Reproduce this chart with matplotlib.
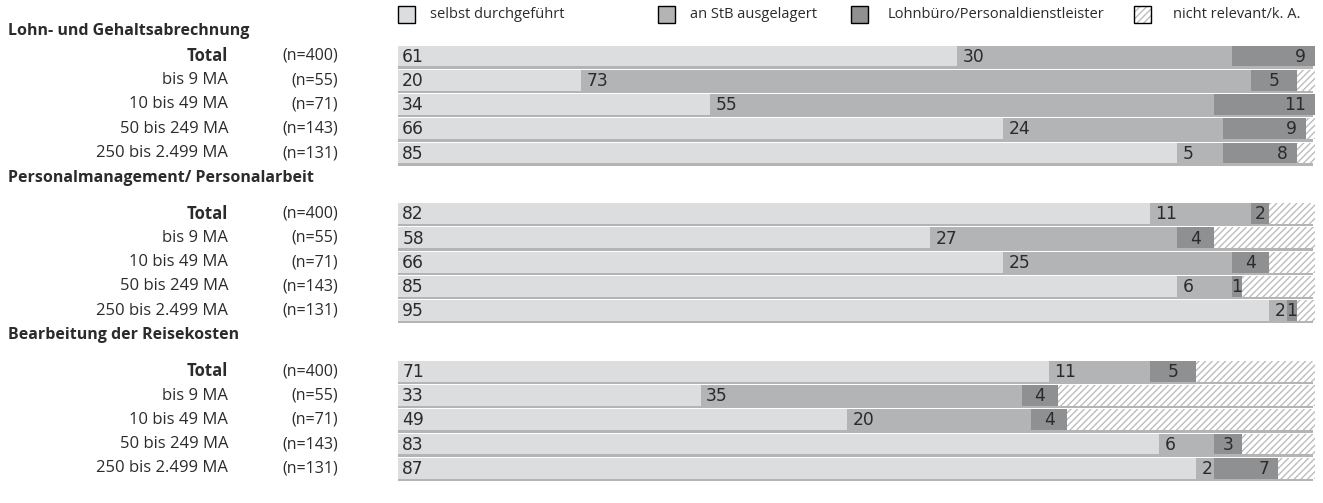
import matplotlib
matplotlib.use("Agg")
import matplotlib.pyplot as plt
from matplotlib.patches import Rectangle
from matplotlib.transforms import blended_transform_factory
import numpy as np

# ---------------- data ----------------
groups = ["Lohn- und Gehaltsabrechnung",
          "Personalmanagement/ Personalarbeit",
          "Bearbeitung der Reisekosten"]
row_labels = ["Total", "bis 9 MA", "10 bis 49 MA", "50 bis 249 MA", "250 bis 2.499 MA"]
n_labels = ["(n=400)", "(n=55)", "(n=71)", "(n=143)", "(n=131)"]
series_names = ["selbst durchgeführt", "an StB ausgelagert",
                "Lohnbüro/Personaldienstleister", "nicht relevant/k. A."]

selbst = [[61, 20, 34, 66, 85],
          [82, 58, 66, 85, 95],
          [71, 33, 49, 83, 87]]
stb = [[30, 73, 55, 24, 5],
       [11, 27, 25, 6, 2],
       [11, 35, 20, 6, 2]]
lohnbuero = [[9, 5, 11, 9, 8],
             [2, 4, 4, 1, 1],
             [5, 4, 4, 3, 7]]

# ---------------- style ----------------
W, H = 1323, 503
fig = plt.figure(figsize=(W / 100, H / 100), dpi=100)
plt.rcParams['hatch.linewidth'] = 1.0
c1, c2, c3 = "#dcdddf", "#b3b4b6", "#8f9092"
hatch_col = "#bdbdbd"
txt_col = "#2b2b2b"
num_font = "DejaVu Sans"
lab_font = "Open Sans"
fs_row, fs_n, fs_head, fs_leg, fs_num = 12, 11.5, 11.5, 10.5, 12.3

ax = fig.add_axes([398 / W, 0, (1315 - 398) / W, 1])
row_px0, row_step = 56, 24.25
ax.set_ylim((H - row_px0) / row_step, -row_px0 / row_step)
ax.set_xlim(0, 100)
ax.axis("off")

group_offsets = [0, 6.5, 13]
header_rows = [-1.05, 5.05, 11.5]
bar_h = 0.86

lt = blended_transform_factory(fig.transFigure, ax.transData)

for g in range(3):
    ax.text(8 / W, header_rows[g], groups[g], transform=lt, ha="left", va="center",
            fontsize=fs_head, fontweight="bold", family=lab_font, color=txt_col)
    for i in range(5):
        y = group_offsets[g] + i
        a, b, c = selbst[g][i], stb[g][i], lohnbuero[g][i]
        rest = 100 - a - b - c
        # shadow
        ax.barh(y + 0.10, 100, left=-0.2, height=bar_h, color="#b4b4b4", lw=0, zorder=1)
        ax.barh(y, a, left=0, height=bar_h, color=c1, lw=0, zorder=2)
        ax.barh(y, b, left=a, height=bar_h, color=c2, lw=0, zorder=2)
        ax.barh(y, c, left=a + b, height=bar_h, color=c3, lw=0, zorder=2)
        if rest > 0:
            ax.barh(y, rest, left=a + b + c, height=bar_h, color="white",
                    edgecolor=hatch_col, hatch="/////", lw=0, zorder=2)
        # labels
        ax.text(0.45, y + 0.03, str(a), ha="left", va="center", fontsize=fs_num,
                family=num_font, color=txt_col, zorder=3)
        ax.text(a + 0.6, y + 0.03, str(b), ha="left", va="center", fontsize=fs_num,
                family=num_font, color=txt_col, zorder=3)
        if c > 5:
            ax.text(a + b + c - 1.0, y + 0.03, str(c), ha="right", va="center",
                    fontsize=fs_num, family=num_font, color=txt_col, zorder=3)
        else:
            ax.text(a + b + c / 2, y + 0.03, str(c), ha="center", va="center",
                    fontsize=fs_num, family=num_font, color=txt_col, zorder=3)
        ax.text(228 / W, y, row_labels[i], transform=lt, ha="right", va="center",
                fontsize=fs_row, family=lab_font, color=txt_col,
                fontweight="bold" if i == 0 else "normal")
        ax.text(338 / W, y, n_labels[i], transform=lt, ha="right", va="center",
                fontsize=fs_n, family=lab_font, color=txt_col)

# ---------------- legend ----------------
leg_sq_x = [398, 658, 851, 1134]
leg_txt_x = [430, 690, 888, 1173]
leg_cols = [c1, c2, c3, "white"]
sq = 17
ly = 6
for k in range(4):
    x0 = leg_sq_x[k] / W
    y0 = 1 - (ly + sq) / H
    w = sq / W
    h = sq / H
    if k == 3:
        fig.patches.append(Rectangle((x0, y0), w, h, transform=fig.transFigure,
                                     facecolor="white", edgecolor=hatch_col,
                                     hatch="/////", lw=0))
        fig.patches.append(Rectangle((x0, y0), w, h, transform=fig.transFigure,
                                     facecolor="none", edgecolor="black", lw=1))
    else:
        fig.patches.append(Rectangle((x0, y0), w, h, transform=fig.transFigure,
                                     facecolor=leg_cols[k], edgecolor="black", lw=1))
    fig.text(leg_txt_x[k] / W, 1 - (ly + sq / 2) / H, series_names[k],
             ha="left", va="center", fontsize=fs_leg, family=lab_font, color=txt_col)

fig.savefig("out.png", dpi=100)
